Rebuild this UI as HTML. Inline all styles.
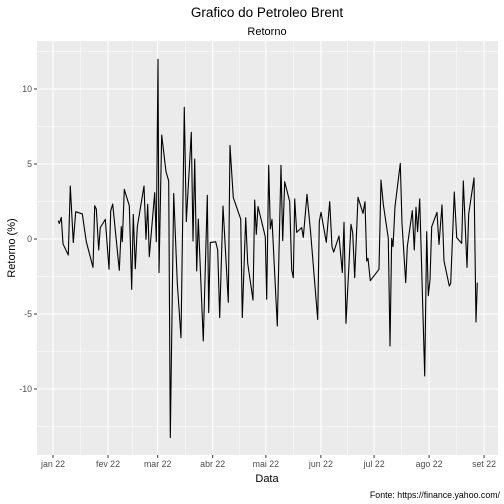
<!DOCTYPE html>
<html><head><meta charset="utf-8"><style>
body{margin:0;background:#fff;}
svg{display:block;font-family:"Liberation Sans",sans-serif;}
</style></head><body>
<svg id="chart" width="504" height="504">
<rect x="0" y="0" width="504" height="504" fill="#fff"/>
<text x="267" y="17" text-anchor="middle" font-size="13.5" fill="#000">Grafico do Petroleo Brent</text>
<text x="267" y="35" text-anchor="middle" font-size="11" fill="#000">Retorno</text>
<rect x="37" y="41" width="461" height="414" fill="#EBEBEB"/>
<g id="grid"></g>
<g id="axes"></g>
<path id="line" fill="none" stroke="#000" stroke-width="1.1" stroke-linejoin="round"/>
<text x="267" y="482" text-anchor="middle" font-size="11" fill="#000">Data</text>
<text transform="translate(15,248) rotate(-90)" text-anchor="middle" font-size="11" fill="#000">Retorno (%)</text>
<text x="500" y="498" text-anchor="end" font-size="8.8" fill="#000">Fonte: https://finance.yahoo.com/</text>
</svg>
<script>
const days = [2.99,3.55,4.68,5.64,8.62,9.75,11.44,12.80,16.52,18.77,22.55,23.51,24.41,25.76,26.66,29.48,31.57,32.53,33.65,37.37,38.50,39.06,40.19,43.01,44.36,45.26,46.39,47.52,51.30,52.42,53.38,54.28,57.33,58.23,59.19,59.76,61.27,63.70,65.22,66.12,68.04,70.07,72.15,74.01,75.14,77.96,78.92,79.88,81.00,81.90,84.72,86.98,87.77,88.67,91.71,92.84,93.97,95.83,98.82,99.77,101.63,105.81,106.71,108.63,109.75,112.74,113.70,114.60,115.56,119.67,120.46,121.59,122.49,123.45,126.44,128.52,129.48,130.61,133.43,134.55,135.46,136.25,137.37,140.19,141.09,143.18,145.26,149.21,150.11,151.07,154.06,155.98,157.27,158.23,161.22,163.08,164.04,165.16,167.98,168.94,170.07,171.93,174.75,175.87,176.83,177.56,178.86,183.76,184.89,186.19,189.01,189.97,190.92,191.66,192.79,195.77,196.73,198.82,199.72,202.54,203.66,204.62,205.52,206.71,209.53,210.66,211.56,212.51,213.47,216.46,217.59,219.28,220.41,223.39,224.18,226.21,227.57,230.38,231.29,233.37,234.33,237.32,238.44,239.18];
const returns = [1.22,1.04,1.44,-0.33,-1.07,3.53,-0.24,1.82,1.67,-0.18,-1.89,2.22,2.0,-0.73,0.76,1.31,-2.02,1.87,2.33,-2.09,0.82,-0.18,3.31,2.22,-3.36,1.64,-1.98,0.82,3.53,-0.02,2.31,-1.18,3.09,-0.18,11.98,-2.24,6.93,4.49,3.87,-13.24,3.04,-2.96,-6.58,8.78,1.16,7.11,-0.13,5.33,-2.13,1.33,-6.8,2.91,-4.91,-0.24,-0.18,-0.73,-5.24,2.2,-4.22,6.24,2.76,1.33,-5.24,1.42,-1.62,-4.07,2.6,0.31,2.16,0.16,-4.02,4.91,0.67,1.31,-5.8,4.91,-0.11,3.82,2.49,-2.07,-2.58,2.67,0.44,0.76,0.11,2.98,0.38,-5.36,1.16,1.78,-0.22,2.49,-0.51,-0.87,0.2,-2.24,1.11,-5.62,0.98,0.42,-2.58,2.78,1.71,2.49,-1.47,-1.29,-2.78,-2.02,3.93,2.31,0.04,-7.13,0.04,-0.51,2.16,5.04,1.04,-2.91,-0.51,1.89,-0.73,2.11,0.49,2.67,-9.13,0.49,-3.78,-2.73,0.82,1.78,-0.36,2.27,-1.47,-3.13,-2.96,3.13,0.09,-0.29,3.87,-1.89,1.67,4.07,-5.53,-2.91];
const monthLabels = ["jan 22","fev 22","mar 22","abr 22","mai 22","jun 22","jul 22","ago 22","set 22"];
const monthDays = [0,31,59,90,120,151,181,212,243];
const yTicks = [-10,-5,0,5,10];

const NS="http://www.w3.org/2000/svg";
const X = d => 53 + d*1.774;
const Y = v => 239 - v*15;
const grid=document.getElementById('grid'), axes=document.getElementById('axes');
function mk(tag,attrs,parent){const e=document.createElementNS(NS,tag);for(const k in attrs)e.setAttribute(k,attrs[k]);parent.appendChild(e);return e;}
// minor y grid
for(let i=0;i<yTicks.length-1;i++){
  const v=(yTicks[i]+yTicks[i+1])/2;
  const l=mk('line',{x1:37,x2:498,y1:Y(v),y2:Y(v),stroke:'#fff','stroke-width':0.5},grid);
  
  
}
[yTicks[0]-2.5,yTicks[yTicks.length-1]+2.5].forEach(v=>{
  const l=mk('line',{x1:37,x2:498,y1:Y(v),y2:Y(v),stroke:'#fff','stroke-width':0.5},grid);
  
  
});
for(let i=0;i<monthDays.length-1;i++){
  const xm=(X(monthDays[i])+X(monthDays[i+1]))/2;
  const l=mk('line',{x1:xm,x2:xm,y1:41,y2:455,stroke:'#fff','stroke-width':0.5},grid);
  
  
}
yTicks.forEach(v=>{
  const l=mk('line',{x1:37,x2:498,y1:Y(v),y2:Y(v),stroke:'#fff','stroke-width':1.1},grid);
  
  
  const t=mk('line',{x1:34,x2:37,y1:Y(v),y2:Y(v),stroke:'#333','stroke-width':1},axes);
  
  
  const tx=mk('text',{x:32,y:Y(v)+3,'text-anchor':'end','font-size':'8.8',fill:'#4D4D4D'},axes);
  tx.textContent=v;
  
  
});
monthDays.forEach((d,i)=>{
  const x=X(d);
  const l=mk('line',{x1:x,x2:x,y1:41,y2:455,stroke:'#fff','stroke-width':1.1},grid);
  
  
  const t=mk('line',{x1:x,x2:x,y1:455,y2:458,stroke:'#333','stroke-width':1},axes);
  
  
  const tx=mk('text',{x:x,y:467,'text-anchor':'middle','font-size':'8.8',fill:'#4D4D4D'},axes);
  tx.textContent=monthLabels[i];
  
  
});
document.getElementById('line').setAttribute('d',days.map((d,i)=>(i?'L':'M')+X(d).toFixed(2)+','+Y(returns[i]).toFixed(2)).join(''));
</script>
</body></html>
